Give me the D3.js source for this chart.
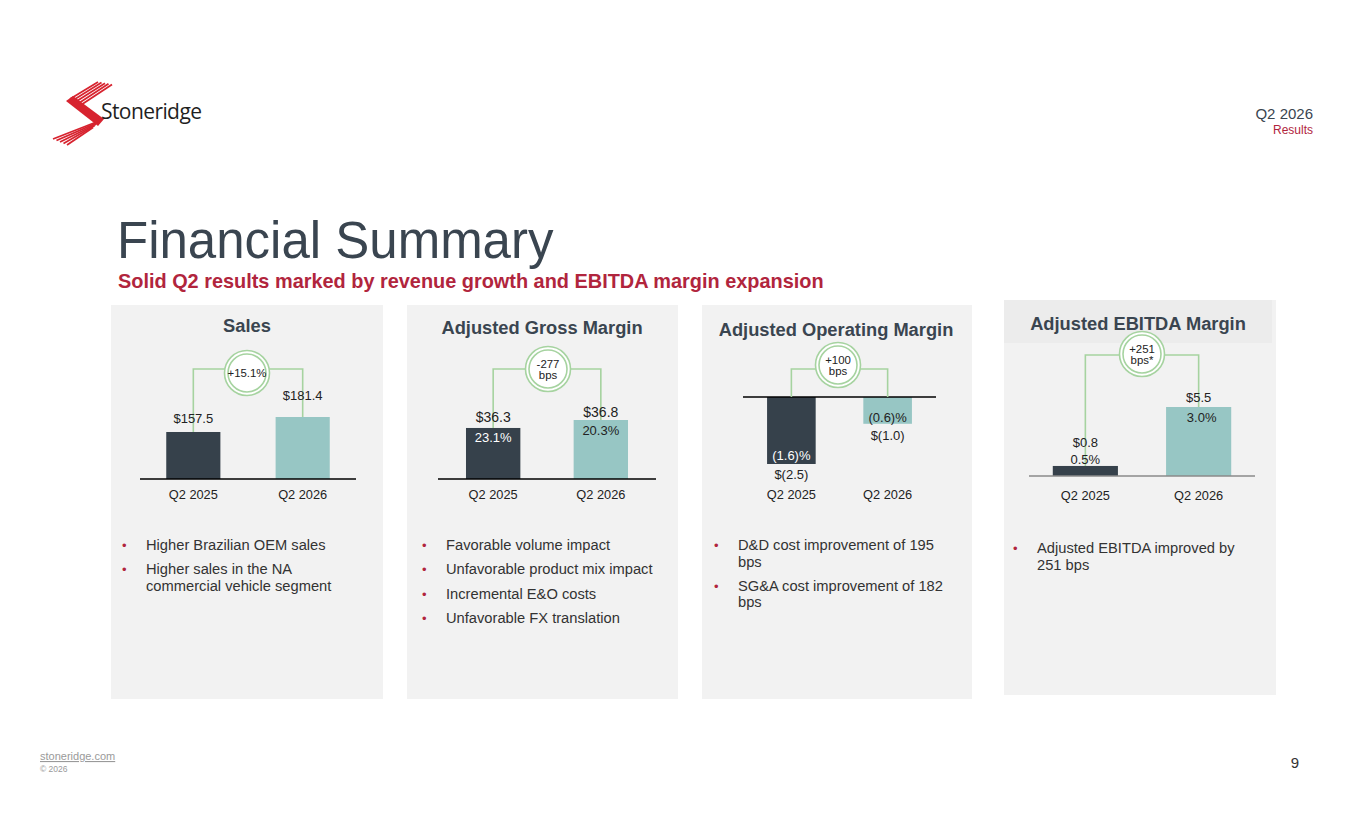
<!DOCTYPE html>
<html>
<head>
<meta charset="utf-8">
<script src="https://cdn.jsdelivr.net/npm/d3@7"></script>
<style>
  body { margin: 0; background: #fff; }
  svg { display: block; font-family: "Liberation Sans", Arial, sans-serif; }
</style>
</head>
<body>
<div id="slide"></div>
<script>
// ===== data =====
const categories = ['Q2 2025', 'Q2 2026'];

const salesValues = [157.5, 181.4];
const grossValues = [36.3, 36.8];
const grossPct = [23.1, 20.3];
const opValues = [-2.5, -1.0];
const opPct = [-1.6, -0.6];
const ebitdaValues = [0.8, 5.5];
const ebitdaPct = [0.5, 3.0];

const changeLabels = [['+15.1%'], ['-277', 'bps'], ['+100', 'bps'], ['+251', 'bps*']];
const panelTitles = ['Sales', 'Adjusted Gross Margin', 'Adjusted Operating Margin', 'Adjusted EBITDA Margin'];

const salesBullets = [['Higher Brazilian OEM sales'], ['Higher sales in the NA', 'commercial vehicle segment']];
const grossBullets = [['Favorable volume impact'], ['Unfavorable product mix impact'], ['Incremental E&O costs'], ['Unfavorable FX translation']];
const opBullets = [['D&D cost improvement of 195', 'bps'], ['SG&A cost improvement of 182', 'bps']];
const ebitdaBullets = [['Adjusted EBITDA improved by', '251 bps']];

// ===== formatting =====
const money = v => v < 0 ? `$(${d3.format('.1f')(-v)})` : `$${d3.format('.1f')(v)}`;
const pct = v => v < 0 ? `(${d3.format('.1f')(-v)})%` : `${d3.format('.1f')(v)}%`;

const DARK = '#36414b';
const TEAL = '#97c6c4';
const GREEN = '#a6d3a0';
const RED = '#b1253d';
const TEXT = '#222';
const HEAD = '#3a4550';
const LOGO_RED = '#d7232f';

const W = 1365, H = 829;
const svg = d3.select('#slide').append('svg').attr('width', W).attr('height', H);

// ===== logo =====
const logo = svg.append('g').attr('class', 'logo');
// upper stripes fanning out to the top right
[0, 1, 2, 3, 4].forEach(i => {
    logo.append('line')
        .attr('x1', 98 + i * 3.5).attr('y1', 82 + i * 0.6)
        .attr('x2', 70 + i * 1.5).attr('y2', 99 + i * 2.3)
        .attr('stroke', LOGO_RED).attr('stroke-width', 1.8);
});
// solid middle stroke
logo.append('path')
    .attr('d', 'M66,101 L73,96 L104,119 L98,126 Z')
    .attr('fill', LOGO_RED);
// lower stripes fanning out to the bottom left
[0, 1, 2, 3, 4].forEach(i => {
    logo.append('line')
        .attr('x1', 99 - i * 1.5).attr('y1', 121 + i * 1.6)
        .attr('x2', 53 + i * 3.5).attr('y2', 139 + i * 1.5)
        .attr('stroke', LOGO_RED).attr('stroke-width', 1.8);
});
logo.append('text')
    .attr('x', 101).attr('y', 119)
    .attr('font-family', '"Open Sans", "Liberation Sans", sans-serif')
    .attr('font-size', 21)
    .attr('textLength', 101)
    .attr('fill', '#1f1f1f')
    .text('Stoneridge');

// ===== header =====
svg.append('text').attr('x', 1313).attr('y', 119).attr('text-anchor', 'end')
    .attr('font-size', 15).attr('fill', HEAD).text('Q2 2026');
svg.append('text').attr('x', 1313).attr('y', 134).attr('text-anchor', 'end')
    .attr('font-size', 12).attr('fill', RED).text('Results');

svg.append('text').attr('x', 117).attr('y', 258)
    .attr('font-size', 51).attr('fill', HEAD).text('Financial Summary');
svg.append('text').attr('x', 118).attr('y', 288)
    .attr('font-size', 19.9).attr('font-weight', 'bold').attr('fill', RED)
    .text('Solid Q2 results marked by revenue growth and EBITDA margin expansion');

// ===== panels =====
const panels = [
    {
        values: salesValues, inner: null, bullets: salesBullets,
        box: [111, 305, 272, 394], titleX: 247, titleY: 332,
        axis: [140, 356], pi: 0.505, po: 0.24, axisY: 479, yDomain: [82.6, 181.4], yTop: 417,
        circle: [247, 373, 369], labelDy: [-9, -17], innerDy: [], axisColor: '#000', xLabelY: 499,
        valueSize: 13, bulletX: 122, bulletY: 550
    },
    {
        values: grossValues, inner: grossPct, bullets: grossBullets,
        box: [407, 305, 271, 394], titleX: 542, titleY: 334,
        axis: [438, 656], pi: 0.495, po: 0.26, axisY: 479, yDomain: [33.1, 36.8], yTop: 420,
        circle: [548, 369, 369], labelDy: [-6, -3], innerDy: [14, 15], axisColor: '#000', xLabelY: 499,
        valueSize: 14, bulletX: 422, bulletY: 550
    },
    {
        values: opValues, inner: opPct, bullets: opBullets,
        box: [702, 305, 270, 394], titleX: 836, titleY: 336,
        axis: [743, 936], pi: 0.495, po: 0.25, axisY: 397, yDomain: [0, -2.5], yTop: 464,
        circle: [838, 365, 369], labelDy: [15, 16], innerDy: [-4, -2], axisColor: '#000', xLabelY: 499,
        valueSize: 13, bulletX: 714, bulletY: 550
    },
    {
        values: ebitdaValues, inner: ebitdaPct, bullets: ebitdaBullets,
        box: [1004, 300, 272, 395], titleX: 1138, titleY: 330,
        axis: [1029, 1255], pi: 0.425, po: 0.21, axisY: 476, yDomain: [0, 5.5], yTop: 407,
        circle: [1142, 354, 355], labelDy: [-19, -5], innerDy: [-2, 15], axisColor: '#8a8a8a', xLabelY: 500,
        valueSize: 13, bulletX: 1013, bulletY: 553
    }
];

panels.forEach((p, pi) => {
    const g = svg.append('g').attr('class', `panel-${pi}`);
    const [bx, by, bw, bh] = p.box;
    g.append('rect').attr('x', bx).attr('y', by).attr('width', bw).attr('height', bh).attr('fill', '#f2f2f2');
    if (pi === 3) {
        g.append('rect').attr('x', bx).attr('y', by).attr('width', bw - 4).attr('height', 43).attr('fill', '#ececec');
    }

    g.append('text').attr('x', p.titleX).attr('y', p.titleY).attr('text-anchor', 'middle')
        .attr('font-size', 18.3).attr('font-weight', 'bold').attr('fill', HEAD).text(panelTitles[pi]);

    const x = d3.scaleBand().domain(categories).range(p.axis).paddingInner(p.pi).paddingOuter(p.po);
    const y = d3.scaleLinear().domain(p.yDomain).range([p.axisY, p.yTop]);
    const neg = p.yDomain[1] < 0;

    const data = categories.map((c, i) => ({ cat: c, v: p.values[i], inner: p.inner ? p.inner[i] : null, i }));

    // bars
    g.selectAll('rect.bar').data(data).enter().append('rect')
        .attr('class', 'bar')
        .attr('x', d => x(d.cat))
        .attr('width', x.bandwidth())
        .attr('y', d => neg ? p.axisY : y(d.v))
        .attr('height', d => Math.abs(y(d.v) - p.axisY))
        .attr('fill', d => d.i === 0 ? DARK : TEAL);

    // axis line
    g.append('line').attr('x1', p.axis[0]).attr('x2', p.axis[1])
        .attr('y1', p.axisY).attr('y2', p.axisY)
        .attr('stroke', p.axisColor).attr('stroke-width', 1.5);

    // connector
    const [cx, cy, hy] = p.circle;
    const cxs = data.map(d => x(d.cat) + x.bandwidth() / 2);
    const ends = data.map(d => neg ? p.axisY : y(d.v));
    const conn = g.append('g').attr('fill', 'none').attr('stroke', GREEN).attr('stroke-width', 1.6);
    conn.append('path').attr('d', `M${cxs[0]},${ends[0]} V${hy} H${cx - 22}`);
    conn.append('path').attr('d', `M${cxs[1]},${ends[1]} V${hy} H${cx + 22}`);
    g.append('circle').attr('cx', cx).attr('cy', cy).attr('r', 22.5)
        .attr('fill', '#fff').attr('stroke', GREEN).attr('stroke-width', 1.6);
    g.append('circle').attr('cx', cx).attr('cy', cy).attr('r', 19)
        .attr('fill', '#fff').attr('stroke', GREEN).attr('stroke-width', 1.6);
    const lines = changeLabels[pi];
    lines.forEach((t, li) => {
        g.append('text').attr('x', cx).attr('y', cy + 4 + (li - (lines.length - 1) / 2) * 11)
            .attr('text-anchor', 'middle').attr('font-size', 11.4).attr('fill', TEXT).text(t);
    });

    // value labels
    g.selectAll('text.val').data(data).enter().append('text')
        .attr('class', 'val')
        .attr('x', d => cxs[d.i])
        .attr('y', d => y(d.v) + p.labelDy[d.i])
        .attr('text-anchor', 'middle')
        .attr('font-size', p.valueSize)
        .attr('fill', TEXT)
        .text(d => money(d.v));

    if (p.inner) {
        g.selectAll('text.pct').data(data).enter().append('text')
            .attr('class', 'pct')
            .attr('x', d => cxs[d.i] + (pi === 3 && d.i === 1 ? 3 : 0))
            .attr('y', d => y(d.v) + p.innerDy[d.i])
            .attr('text-anchor', 'middle')
            .attr('font-size', 13)
            .attr('fill', d => (d.i === 0 && pi !== 3) ? '#fff' : TEXT)
            .text(d => pct(d.inner));
    }

    // category labels
    g.selectAll('text.cat').data(data).enter().append('text')
        .attr('class', 'cat')
        .attr('x', d => cxs[d.i])
        .attr('y', p.xLabelY)
        .attr('text-anchor', 'middle')
        .attr('font-size', 12.8)
        .attr('fill', TEXT)
        .text(d => d.cat);

    // bullets
    let ly = p.bulletY;
    p.bullets.forEach(b => {
        g.append('text').attr('x', p.bulletX).attr('y', ly).attr('font-size', 13)
            .attr('fill', RED).text('•');
        b.forEach((line, k) => {
            g.append('text').attr('x', p.bulletX + 24).attr('y', ly + k * 16.5)
                .attr('font-size', 14.7).attr('fill', '#333').text(line);
        });
        ly += 24.3 + (b.length - 1) * 16.5;
    });
});

// ===== footer =====
svg.append('text').attr('x', 40).attr('y', 760).attr('font-size', 11)
    .attr('fill', '#9a9a9a').attr('text-decoration', 'underline').text('stoneridge.com');
svg.append('text').attr('x', 40).attr('y', 772).attr('font-size', 8.5)
    .attr('fill', '#9a9a9a').text('© 2026');
svg.append('text').attr('x', 1299).attr('y', 768).attr('text-anchor', 'end')
    .attr('font-size', 15).attr('fill', '#333').text('9');
</script>
</body>
</html>
